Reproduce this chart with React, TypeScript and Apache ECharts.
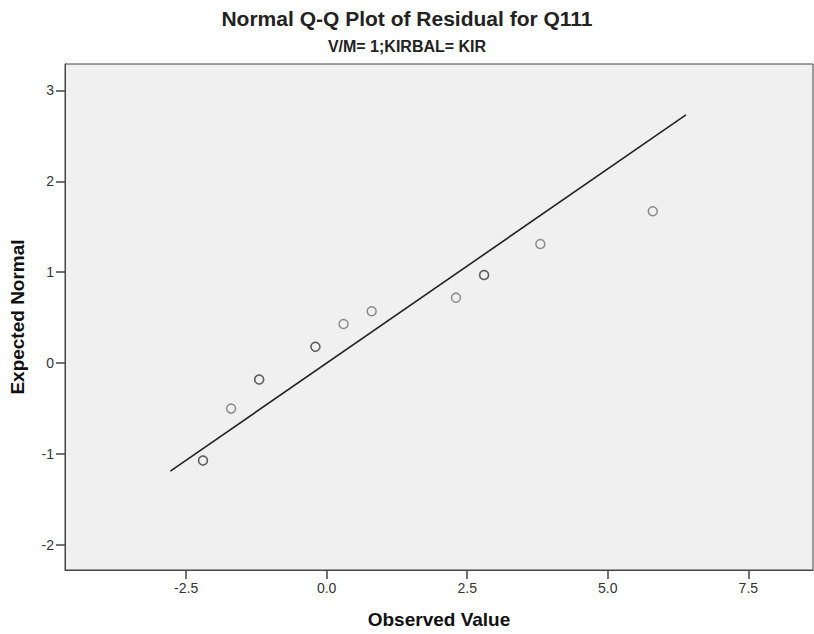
import React, { useEffect, useRef } from "react";
import * as echarts from "echarts";

const TITLE = "Normal Q-Q Plot of Residual for Q111";
const SUBTITLE = "V/M= 1;KIRBAL= KIR";
const X_NAME = "Observed Value";
const Y_NAME = "Expected Normal";

// Observed residuals and their expected normal values (tied values repeated)
const observed = [-2.2, -2.2, -1.7, -1.2, -1.2, -0.2, -0.2, 0.3, 0.8, 2.3, 2.8, 2.8, 3.8, 5.8];
const expected = [-1.07, -1.07, -0.5, -0.18, -0.18, 0.18, 0.18, 0.43, 0.57, 0.72, 0.97, 0.97, 1.31, 1.67];

// Reference line end points
const lineX = [-2.78, 6.39];
const lineY = [-1.187, 2.73];

const xTicks = [-2.5, 0, 2.5, 5, 7.5];
const yTicks = [-2, -1, 0, 1, 2, 3];

const FONT = "'Liberation Sans', Arial, sans-serif";

export default function App() {
  const ref = useRef<HTMLDivElement>(null);
  useEffect(() => {
    document.body.style.margin = "0";
    if (!ref.current) return;
    const chart = echarts.init(ref.current, null, { renderer: "svg" });
    chart.setOption({
      animation: false,
      backgroundColor: "#ffffff",
      textStyle: { fontFamily: FONT },
      title: [
        {
          text: TITLE,
          left: "center",
          top: 3,
          textStyle: { fontSize: 21, fontWeight: "bold", color: "#222", fontFamily: FONT },
        },
        {
          text: SUBTITLE,
          left: "center",
          top: 33,
          textStyle: { fontSize: 16, fontWeight: "bold", color: "#222", fontFamily: FONT },
        },
      ],
      grid: {
        left: 60,
        right: 1,
        top: 64,
        bottom: 60,
        show: true,
        backgroundColor: "#f0f0f0",
        borderColor: "#444",
        borderWidth: 1,
      },
      xAxis: {
        type: "value",
        min: -4.654,
        max: 8.65,
        name: X_NAME,
        nameLocation: "middle",
        nameGap: 40,
        nameTextStyle: { fontSize: 19, fontWeight: "bold", color: "#111", fontFamily: FONT },
        axisLine: { show: true, onZero: false, lineStyle: { color: "#444", width: 1 } },
        axisTick: { show: true, length: 9, customValues: xTicks, lineStyle: { color: "#444", width: 1.5 } },
        axisLabel: {
          customValues: xTicks,
          margin: 11,
          fontSize: 14,
          color: "#333",
          fontFamily: FONT,
          formatter: (v: number) => v.toFixed(1),
        },
        splitLine: { show: false },
      },
      yAxis: {
        type: "value",
        min: -2.275,
        max: 3.29,
        name: Y_NAME,
        nameLocation: "middle",
        nameGap: 38,
        nameTextStyle: { fontSize: 19, fontWeight: "bold", color: "#111", fontFamily: FONT },
        axisLine: { show: true, onZero: false, lineStyle: { color: "#444", width: 1 } },
        axisTick: { show: true, length: 9, customValues: yTicks, lineStyle: { color: "#444", width: 1.5 } },
        axisLabel: {
          customValues: yTicks,
          margin: 11,
          fontSize: 14,
          color: "#333",
          fontFamily: FONT,
          formatter: (v: number) => String(v),
        },
        splitLine: { show: false },
      },
      series: [
        {
          type: "line",
          data: lineX.map((x, i) => [x, lineY[i]]),
          symbol: "none",
          lineStyle: { color: "#222", width: 1.6 },
          z: 2,
        },
        {
          type: "scatter",
          data: observed.map((x, i) => [x, expected[i]]),
          symbol: "circle",
          symbolSize: 9,
          itemStyle: { color: "transparent", borderColor: "rgba(60,60,60,0.7)", borderWidth: 1.5 },
          z: 3,
        },
      ],
    });
    return () => chart.dispose();
  }, []);
  return <div ref={ref} style={{ width: 814, height: 634 }} />;
}
